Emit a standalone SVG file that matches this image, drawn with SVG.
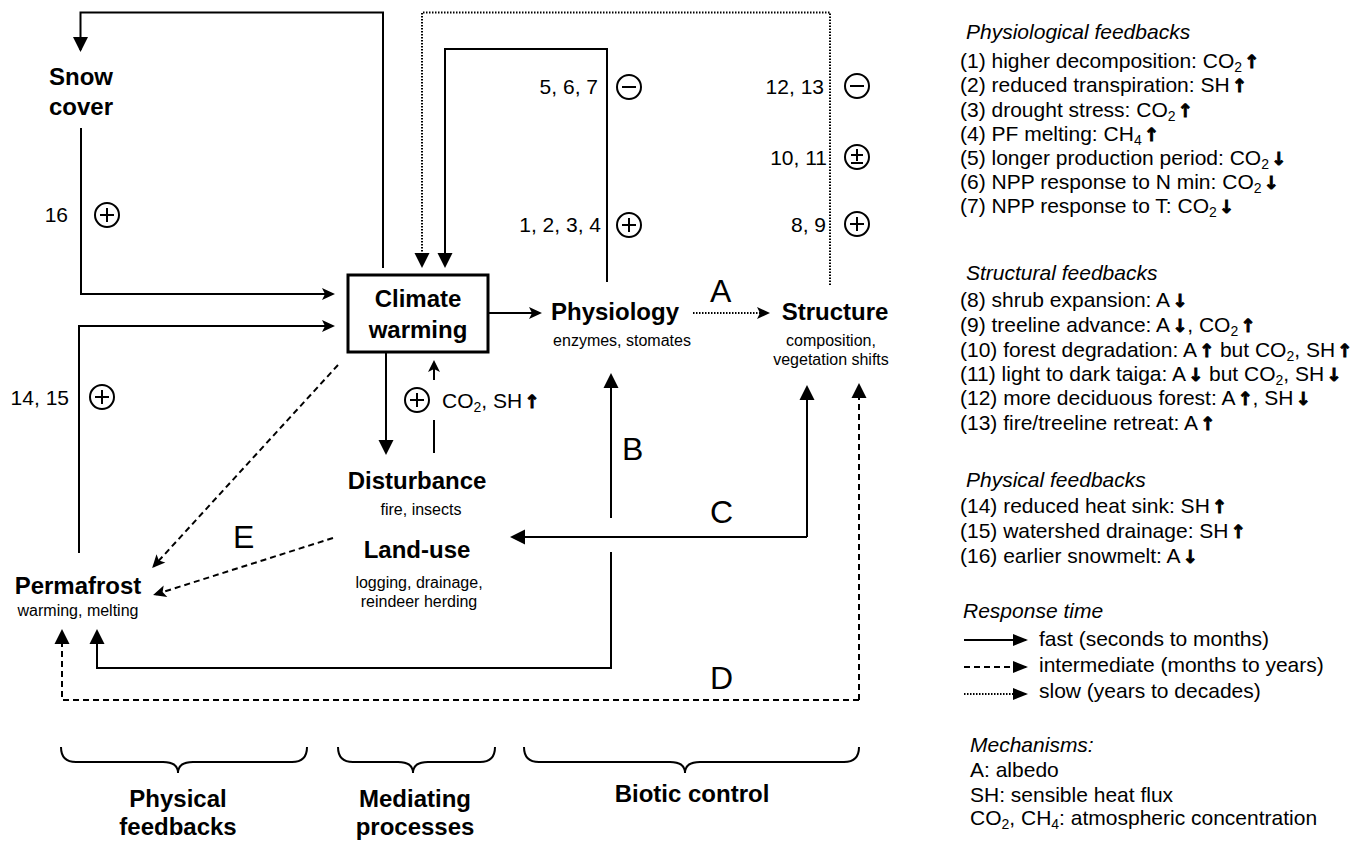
<svg xmlns="http://www.w3.org/2000/svg" width="1371" height="842" viewBox="0 0 1371 842">
<style>
text{font-family:"Liberation Sans",Arial,sans-serif;fill:#000}
.b{font-weight:bold;font-size:24px}
.s{font-size:16px}
.n{font-size:21px}
.L{font-size:32px}
.lg{font-size:21px}
.it{font-size:21px;font-style:italic}
.ar{font-family:"DejaVu Sans",sans-serif;font-weight:bold;font-size:18px;stroke:#000;stroke-width:0.9}
.ln{fill:none;stroke:#000;stroke-width:2}
.da{stroke-dasharray:6 4}
.do{stroke-dasharray:1.5 1.5}
.sg{fill:none;stroke:#000;stroke-width:2}
</style>
<defs>
<marker id="tri" markerUnits="userSpaceOnUse" markerWidth="16" markerHeight="16" refX="13" refY="7.5" orient="auto" overflow="visible"><path d="M0,0 L15,7.5 L0,15 z" fill="#000" stroke="none"/></marker>
<marker id="st" markerUnits="userSpaceOnUse" markerWidth="14" markerHeight="13" refX="11" refY="6" orient="auto" overflow="visible"><path d="M0,0 L13,6 L0,12 L3,6 z" fill="#000" stroke="none"/></marker>
<marker id="lgm" markerUnits="userSpaceOnUse" markerWidth="16" markerHeight="13" refX="13" refY="6" orient="auto" overflow="visible"><path d="M0,0 L15,6 L0,12 z" fill="#000" stroke="none"/></marker>
<g id="plus"><circle r="12" class="sg"/><path d="M-7,0 H7 M0,-7 V7" class="sg"/></g>
<g id="minus"><circle r="12" class="sg"/><path d="M-7,0 H7" class="sg"/></g>
<g id="pm"><circle r="12" class="sg"/><path d="M-6,-2 H6 M0,-8 V4 M-6,6 H6" class="sg"/></g>
</defs>
<rect width="1371" height="842" fill="#fff"/>

<g id="connectors">
<path class="ln" d="M383,268 V12.5 H80.5 V50" marker-end="url(#tri)"/>
<path class="ln" d="M81,128 V294 H333" marker-end="url(#st)"/>
<path class="ln" d="M79,553 V326 H333" marker-end="url(#st)"/>
<path class="ln do" d="M830,285 V12.5 H422 V266" marker-end="url(#tri)"/>
<path class="ln" d="M607,282 V49 H445 V266" marker-end="url(#tri)"/>
<path class="ln" d="M488,313 H540" marker-end="url(#st)"/>
<path class="ln do" d="M693,313 H768" marker-end="url(#st)"/>
<path class="ln" d="M386,352 V453" marker-end="url(#tri)"/>
<path class="ln" d="M434,453 V420"/>
<path class="ln" d="M434,380 V366"/>
<path d="M434,360 L440,372 L434,369 L428,372 z" fill="#000"/>
<path class="ln da" d="M338,365 L153.5,566.5" marker-end="url(#st)"/>
<path class="ln da" d="M333,538 L155,594.5" marker-end="url(#st)"/>
<path class="ln" d="M611,518 V375" marker-end="url(#tri)"/>
<path class="ln" d="M807,537 V387" marker-end="url(#tri)"/>
<path class="ln" d="M807,537 H512" marker-end="url(#tri)"/>
<path class="ln" d="M611,552 V668 H97 V631" marker-end="url(#tri)"/>
<path class="ln da" d="M859,700 V385" marker-end="url(#tri)"/>
<path class="ln da" d="M859,700 H62 V631" marker-end="url(#tri)"/>
</g>

<g id="signs">
<use href="#plus" x="107" y="215"/>
<use href="#plus" x="102" y="397"/>
<use href="#minus" x="629" y="87"/>
<use href="#plus" x="629" y="225"/>
<use href="#minus" x="857" y="86"/>
<use href="#pm" x="857" y="157"/>
<use href="#plus" x="857" y="224"/>
<use href="#plus" x="417" y="400"/>
<text class="n" x="68" y="222" text-anchor="end">16</text>
<text class="n" x="69" y="405" text-anchor="end">14, 15</text>
<text class="n" x="598" y="94" text-anchor="end">5, 6, 7</text>
<text class="n" x="601" y="232" text-anchor="end">1, 2, 3, 4</text>
<text class="n" x="824" y="94" text-anchor="end">12, 13</text>
<text class="n" x="827" y="165" text-anchor="end">10, 11</text>
<text class="n" x="826" y="232" text-anchor="end">8, 9</text>
<text class="n" x="442" y="408">CO<tspan dy="4" font-size="14">2</tspan><tspan dy="-4">, SH</tspan><tspan class="ar" dx="2">↑</tspan></text>
<text class="L" x="710" y="302">A</text>
<text class="L" x="622" y="460">B</text>
<text class="L" x="710" y="523">C</text>
<text class="L" x="710" y="689">D</text>
<text class="L" x="233" y="548">E</text>
</g>

<g id="snow"><text class="b" x="81" y="85" text-anchor="middle">Snow</text><text class="b" x="81" y="115" text-anchor="middle">cover</text></g>
<g id="climate"><rect x="348" y="275" width="140" height="77" fill="#fff" stroke="#000" stroke-width="3"/><text class="b" x="418" y="307" text-anchor="middle">Climate</text><text class="b" x="418" y="338" text-anchor="middle">warming</text></g>
<g id="physiology"><text class="b" x="615" y="320" text-anchor="middle">Physiology</text><text class="s" x="622" y="346" text-anchor="middle">enzymes, stomates</text></g>
<g id="structure"><text class="b" x="835" y="320" text-anchor="middle">Structure</text><text class="s" x="831" y="346" text-anchor="middle">composition,</text><text class="s" x="831" y="365" text-anchor="middle">vegetation shifts</text></g>
<g id="disturbance"><text class="b" x="417" y="489" text-anchor="middle">Disturbance</text><text class="s" x="421" y="515" text-anchor="middle">fire, insects</text></g>
<g id="landuse"><text class="b" x="417" y="558" text-anchor="middle">Land-use</text><text class="s" x="419" y="588" text-anchor="middle">logging, drainage,</text><text class="s" x="419" y="607" text-anchor="middle">reindeer herding</text></g>
<g id="permafrost"><text class="b" x="78" y="594" text-anchor="middle">Permafrost</text><text class="s" x="78" y="616" text-anchor="middle">warming, melting</text></g>

<g id="braces">
<path class="sg" d="M61,747 Q61,762 76,762 H163 Q178,762 178,773 Q178,762 193,762 H292 Q307,762 307,747"/>
<path class="sg" d="M338,747 Q338,762 353,762 H398 Q413,762 413,773 Q413,762 428,762 H480 Q495,762 495,747"/>
<path class="sg" d="M524,747 Q524,762 539,762 H670 Q685,762 685,773 Q685,762 700,762 H844 Q859,762 859,747"/>
<text class="b" x="178" y="807" text-anchor="middle">Physical</text>
<text class="b" x="178" y="835" text-anchor="middle">feedbacks</text>
<text class="b" x="415" y="807" text-anchor="middle">Mediating</text>
<text class="b" x="415" y="835" text-anchor="middle">processes</text>
<text class="b" x="692" y="802" text-anchor="middle">Biotic control</text>
</g>

<g id="legend">
<text class="it" x="966" y="39">Physiological feedbacks</text>
<text class="lg" x="960" y="68">(1) higher decomposition: CO<tspan dy="4" font-size="14">2</tspan><tspan class="ar" dy="-4" dx="2">↑</tspan></text>
<text class="lg" x="960" y="92">(2) reduced transpiration: SH<tspan class="ar" dx="2">↑</tspan></text>
<text class="lg" x="960" y="117">(3) drought stress: CO<tspan dy="4" font-size="14">2</tspan><tspan class="ar" dy="-4" dx="2">↑</tspan></text>
<text class="lg" x="960" y="141">(4) PF melting: CH<tspan dy="4" font-size="14">4</tspan><tspan class="ar" dy="-4" dx="2">↑</tspan></text>
<text class="lg" x="960" y="165">(5) longer production period: CO<tspan dy="4" font-size="14">2</tspan><tspan class="ar" dy="-4" dx="2">↓</tspan></text>
<text class="lg" x="960" y="189">(6) NPP response to N min: CO<tspan dy="4" font-size="14">2</tspan><tspan class="ar" dy="-4" dx="2">↓</tspan></text>
<text class="lg" x="960" y="213">(7) NPP response to T: CO<tspan dy="4" font-size="14">2</tspan><tspan class="ar" dy="-4" dx="2">↓</tspan></text>
<text class="it" x="966" y="280">Structural feedbacks</text>
<text class="lg" x="960" y="307">(8) shrub expansion: A<tspan class="ar" dx="2">↓</tspan></text>
<text class="lg" x="960" y="332">(9) treeline advance: A<tspan class="ar" dx="2">↓</tspan>, CO<tspan dy="4" font-size="14">2</tspan><tspan class="ar" dy="-4" dx="2">↑</tspan></text>
<text class="lg" x="960" y="357">(10) forest degradation: A<tspan class="ar" dx="2">↑</tspan> but CO<tspan dy="4" font-size="14">2</tspan><tspan dy="-4">, SH</tspan><tspan class="ar" dx="2">↑</tspan></text>
<text class="lg" x="960" y="381">(11) light to dark taiga: A<tspan class="ar" dx="2">↓</tspan> but CO<tspan dy="4" font-size="14">2</tspan><tspan dy="-4">, SH</tspan><tspan class="ar" dx="2">↓</tspan></text>
<text class="lg" x="960" y="405">(12) more deciduous forest: A<tspan class="ar" dx="2">↑</tspan>, SH<tspan class="ar" dx="2">↓</tspan></text>
<text class="lg" x="960" y="430">(13) fire/treeline retreat: A<tspan class="ar" dx="2">↑</tspan></text>
<text class="it" x="966" y="487">Physical feedbacks</text>
<text class="lg" x="960" y="513">(14) reduced heat sink: SH<tspan class="ar" dx="2">↑</tspan></text>
<text class="lg" x="960" y="538">(15) watershed drainage: SH<tspan class="ar" dx="2">↑</tspan></text>
<text class="lg" x="960" y="563">(16) earlier snowmelt: A<tspan class="ar" dx="2">↓</tspan></text>
<text class="it" x="963" y="618">Response time</text>
<path class="ln" d="M964,640 H1026" marker-end="url(#lgm)"/>
<path class="ln da" d="M964,667 H1026" marker-end="url(#lgm)"/>
<path class="ln do" d="M964,694 H1026" marker-end="url(#lgm)"/>
<text class="lg" x="1039" y="646">fast (seconds to months)</text>
<text class="lg" x="1039" y="672">intermediate (months to years)</text>
<text class="lg" x="1039" y="698">slow (years to decades)</text>
<text class="it" x="970" y="752">Mechanisms:</text>
<text class="lg" x="970" y="777">A: albedo</text>
<text class="lg" x="970" y="802">SH: sensible heat flux</text>
<text class="lg" x="970" y="825">CO<tspan dy="4" font-size="14">2</tspan><tspan dy="-4">, CH</tspan><tspan dy="4" font-size="14">4</tspan><tspan dy="-4">: atmospheric concentration</tspan></text>
</g>
</svg>
